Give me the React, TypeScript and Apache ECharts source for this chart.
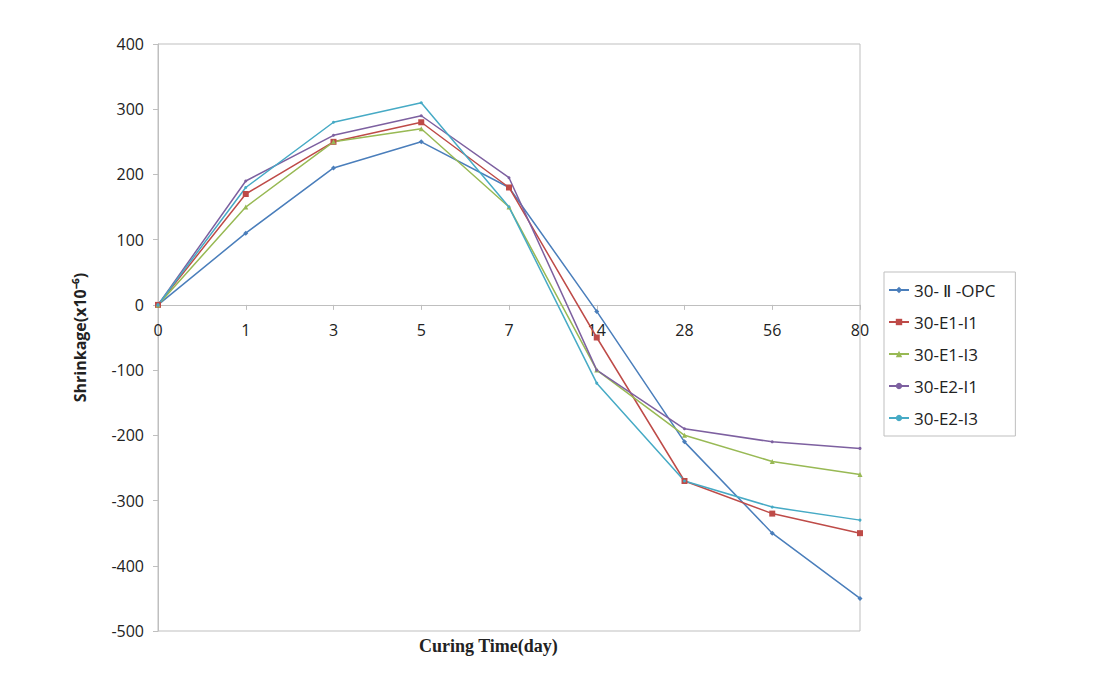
import React, { useEffect, useRef } from "react";
import * as echarts from "echarts";

const categories = ["0", "1", "3", "5", "7", "14", "28", "56", "80"];
const seriesNames = ["30- Ⅱ -OPC", "30-E1-I1", "30-E1-I3", "30-E2-I1", "30-E2-I3"];
const opc = [0, 110, 210, 250, 180, -10, -210, -350, -450];
const e1i1 = [0, 170, 250, 280, 180, -50, -270, -320, -350];
const e1i3 = [0, 150, 250, 270, 150, -100, -200, -240, -260];
const e2i1 = [0, 190, 260, 290, 195, -100, -190, -210, -220];
const e2i3 = [0, 180, 280, 310, 150, -120, -270, -310, -330];
const yTicks = { min: -500, max: 400, interval: 100 };

const colors = ["#4A7EBB", "#BE4B48", "#98B954", "#7D60A0", "#46AAC5"];
const symbols = ["diamond", "rect", "triangle", "circle", "circle"];
const symbolSizes = [5, 6, 5, 3, 3];
const dataSets = [opc, e1i1, e1i3, e2i1, e2i3];

const GRID_TOP = 44;
const GRID_BOTTOM = 43;
const CHART_H = 674;

export default function App() {
  const ref = useRef<HTMLDivElement>(null);
  useEffect(() => {
    if (!ref.current) return;
    const chart = echarts.init(ref.current, undefined, { renderer: "svg" });
    const plotH = CHART_H - GRID_TOP - GRID_BOTTOM;
    // place the category axis on y = 0
    const zeroOffset = -plotH * (0 - yTicks.min) / (yTicks.max - yTicks.min);
    chart.setOption({
      animation: false,
      backgroundColor: "#ffffff",
      grid: {
        left: 158,
        right: 254,
        top: GRID_TOP,
        bottom: GRID_BOTTOM,
        outerBoundsMode: "none",
        containLabel: false,
        show: true,
        borderColor: "#BFBFBF",
        borderWidth: 1,
        backgroundColor: "transparent",
      },
      graphic: [
        {
          type: "text",
          left: 419,
          top: 637,
          style: {
            text: "Curing Time(day)",
            fontFamily: "Liberation Serif",
            fontWeight: "bold",
            fontSize: 18,
            fill: "#222",
          },
        },
      ],
      legend: {
        orient: "vertical",
        left: 884,
        top: 272,
        data: seriesNames,
        itemWidth: 20,
        itemHeight: 8,
        itemGap: 14,
        padding: [9, 20, 9, 4],
        borderColor: "#BFBFBF",
        borderWidth: 1,
        textStyle: { fontFamily: "Open Sans", fontSize: 17, color: "#222", lineHeight: 18 },
      },
      xAxis: {
        type: "category",
        data: categories,
        boundaryGap: false,
        position: "bottom",
        offset: zeroOffset,
        axisLine: { onZero: false, lineStyle: { color: "#BFBFBF" } },
        axisTick: { show: true, alignWithLabel: true, length: 5, inside: false, lineStyle: { color: "#BFBFBF" } },
        axisLabel: { fontFamily: "Open Sans", fontSize: 16, color: "#222", margin: 17 },
        splitLine: { show: false },
      },
      yAxis: {
        type: "value",
        min: yTicks.min,
        max: yTicks.max,
        interval: yTicks.interval,
        axisLine: { show: true, lineStyle: { color: "#BFBFBF" } },
        axisTick: { show: true, length: 5, lineStyle: { color: "#BFBFBF" } },
        axisLabel: { fontFamily: "Open Sans", fontSize: 16, color: "#222", margin: 14 },
        splitLine: { show: false },
        name: "Shrinkage(x10⁻⁶)",
        nameLocation: "middle",
        nameGap: 70,
        nameTextStyle: { fontFamily: "Open Sans", fontWeight: "bold", fontSize: 16, color: "#222" },
      },
      series: dataSets.map((d, i) => ({
        name: seriesNames[i],
        type: "line",
        data: d,
        color: colors[i],
        symbol: symbols[i],
        symbolSize: symbolSizes[i],
        showAllSymbol: true,
        lineStyle: { width: 1.5, color: colors[i] },
        itemStyle: { color: colors[i] },
      })),
    });
    return () => chart.dispose();
  }, []);
  return <div ref={ref} style={{ width: 1114, height: 674, margin: -8 }} />;
}
